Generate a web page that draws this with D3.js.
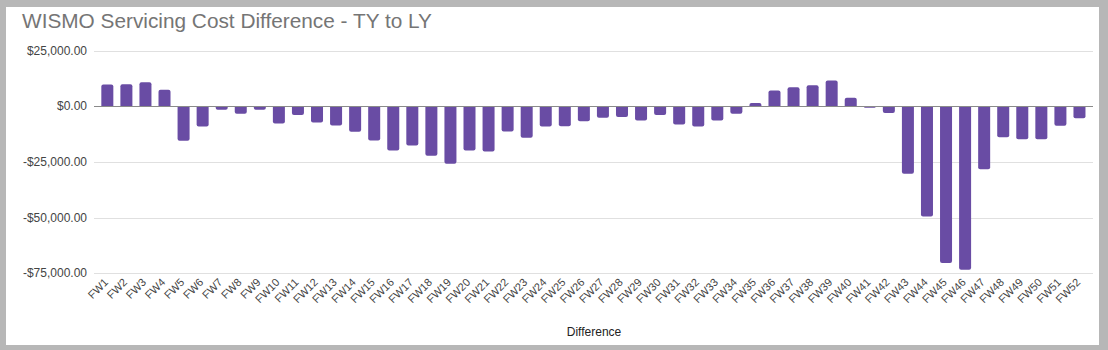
<!DOCTYPE html>
<html><head><meta charset="utf-8">
<script src="https://cdn.jsdelivr.net/npm/d3@7"></script>
<style>
html,body{margin:0;padding:0;background:#b7b7b7;}
svg{display:block;}
</style></head>
<body>
<svg id="chart" width="1108" height="350"></svg>
<script>
const categories = ["FW1","FW2","FW3","FW4","FW5","FW6","FW7","FW8","FW9","FW10","FW11","FW12","FW13","FW14","FW15","FW16","FW17","FW18","FW19","FW20","FW21","FW22","FW23","FW24","FW25","FW26","FW27","FW28","FW29","FW30","FW31","FW32","FW33","FW34","FW35","FW36","FW37","FW38","FW39","FW40","FW41","FW42","FW43","FW44","FW45","FW46","FW47","FW48","FW49","FW50","FW51","FW52"];
const differenceValues = [9700,9800,10800,7400,-15500,-9100,-1600,-3400,-1600,-7800,-3900,-7300,-8700,-11500,-15400,-19900,-17600,-22200,-25800,-19900,-20300,-11400,-14200,-9100,-9000,-6700,-5200,-4900,-6400,-3900,-8200,-9100,-6400,-3400,1400,7000,8500,9400,11500,3800,-700,-3000,-30300,-49500,-70400,-73400,-28300,-13900,-14800,-14800,-8800,-5400];
const yTicks = [25000,0,-25000,-50000,-75000];
const seriesName = "Difference";
const title = "WISMO Servicing Cost Difference - TY to LY";

const svg = d3.select("#chart");
svg.append("rect").attr("x",6).attr("y",7).attr("width",1093).attr("height",338).attr("fill","#ffffff");

const y = d3.scaleLinear().domain([-75000,25000]).range([273.3,50.5]);
const x = d3.scaleBand().domain(categories).range([97.8,1089]).paddingInner(0.37).paddingOuter(0.185);

const fmt = v => (v<0?"-":"") + "$" + d3.format(",.2f")(Math.abs(v));

// gridlines
svg.append("g").selectAll("line").data(yTicks.filter(t=>t!==0)).join("line")
  .attr("x1",94).attr("x2",1093)
  .attr("y1",d=>Math.round(y(d))+0.5).attr("y2",d=>Math.round(y(d))+0.5)
  .attr("stroke","#e0e0e0").attr("stroke-width",1);

// y labels
svg.append("g").selectAll("text").data(yTicks).join("text")
  .attr("x",87).attr("y",d=>y(d)+4)
  .attr("text-anchor","end")
  .attr("font-family","Liberation Sans, Arial, sans-serif").attr("font-size",12)
  .attr("fill","#444").text(fmt);

// bars with rounded outer end
const r = 2;
function barPath(d){
  const x0 = x(d.c), w = x.bandwidth();
  const y0 = y(0), y1 = y(d.v);
  if (d.v >= 0) {
    const h = y0 - y1, rr = Math.min(r, h);
    return `M${x0},${y0}V${y1+rr}Q${x0},${y1} ${x0+rr},${y1}H${x0+w-rr}Q${x0+w},${y1} ${x0+w},${y1+rr}V${y0}Z`;
  } else {
    const h = y1 - y0, rr = Math.min(r, h);
    return `M${x0},${y0}V${y1-rr}Q${x0},${y1} ${x0+rr},${y1}H${x0+w-rr}Q${x0+w},${y1} ${x0+w},${y1-rr}V${y0}Z`;
  }
}
svg.append("g").selectAll("path").data(categories.map((c,i)=>({c, v:differenceValues[i]}))).join("path")
  .attr("d",barPath).attr("fill","#694ca4");

// zero line
svg.append("line").attr("x1",94).attr("x2",1093)
  .attr("y1",Math.round(y(0))+0.5).attr("y2",Math.round(y(0))+0.5)
  .attr("stroke","#8a8a8a").attr("stroke-width",1.2);

// x labels
svg.append("g").selectAll("text").data(categories).join("text")
  .attr("transform",d=>`translate(${x(d)+x.bandwidth()/2+1.5},${283}) rotate(-45)`)
  .attr("text-anchor","end")
  .attr("font-family","Liberation Sans, Arial, sans-serif").attr("font-size",11)
  .attr("fill","#444").text(d=>d);

// axis title
svg.append("text").attr("x",594).attr("y",336).attr("text-anchor","middle")
  .attr("font-family","Liberation Sans, Arial, sans-serif").attr("font-size",12)
  .attr("fill","#222").text(seriesName);

// chart title
svg.append("text").attr("x",22).attr("y",28)
  .attr("font-family","Liberation Sans, Arial, sans-serif").attr("font-size",20.8)
  .attr("fill","#757575").text(title);
</script>
</body></html>
